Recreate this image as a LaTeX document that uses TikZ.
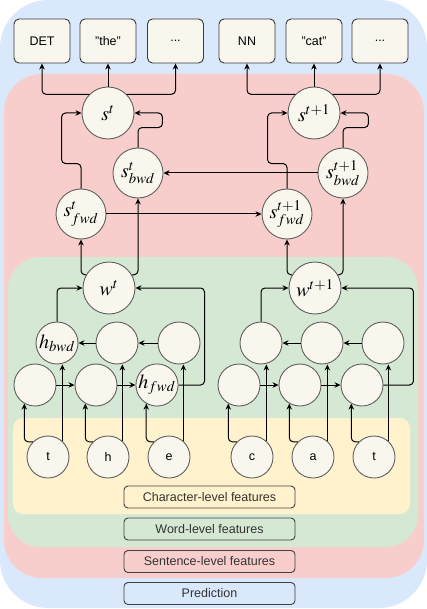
\documentclass[tikz,border=0pt]{standalone}
\usepackage{mathptmx}
\usepackage{fontspec}
\setmainfont{Liberation Sans}
\usetikzlibrary{arrows.meta}

\definecolor{predblue}{HTML}{DAE8FC}
\definecolor{sentred}{HTML}{F8CECC}
\definecolor{wordgreen}{HTML}{D5E8D4}
\definecolor{charyellow}{HTML}{FFF2CC}
\definecolor{cellfill}{HTML}{F9F7ED}
\definecolor{cellline}{HTML}{5F5F5F}
\definecolor{boxline}{HTML}{36393D}

\begin{document}
\begin{tikzpicture}[x=1pt, y=-1pt,
    cell/.style={circle, draw=cellline, fill=cellfill, line width=0.9pt, inner sep=0pt,
        minimum size=42pt, font=\fontsize{20}{24}\selectfont},
    bigcell/.style={cell, minimum size=52pt},
    charcell/.style={cell, font=\fontsize{12.5}{15}\selectfont},
    outbox/.style={draw=boxline, fill=cellfill, rounded corners=5pt, line width=0.9pt,
        minimum width=56pt, minimum height=44pt, font=\fontsize{12.5}{15}\selectfont},
    legend/.style={draw=black!75, rounded corners=4pt, line width=0.9pt, minimum width=171pt,
        minimum height=22pt, font=\fontsize{12.5}{15}\selectfont, text=black!80},
    flow/.style={-{Stealth[length=6pt,width=5.5pt]}, line width=1pt, rounded corners=4pt}]
    \useasboundingbox (0,0) rectangle (427,609);

    \fill [predblue, rounded corners=48pt] (0,0) rectangle (427,608);
    \fill [sentred, rounded corners=38pt] (4,74) rectangle (424,578);
    \fill [wordgreen, rounded corners=32pt] (8,257) rectangle (418,547);
    \fill [charyellow, rounded corners=10pt] (13,418) rectangle (410,514);

    \node [outbox] (det) at (42,41) {DET};
    \node [outbox] (the) at (108,41) {"the"};
    \node [outbox] (dots1) at (175.5,41) {...};
    \node [outbox] (nn) at (247,41) {NN};
    \node [outbox] (cat) at (314,41) {"cat"};
    \node [outbox] (dots2) at (380,41) {...};

    \node [bigcell] (s1) at (108,113) {$s^t$};
    \node [bigcell] (s2) at (314,113) {$s^{t+1}$};
    \node [cell, minimum size=50pt] (sb1) at (138,173) {$s^t_{bwd}$};
    \node [cell, minimum size=50pt] (sb2) at (343,173) {$s^{t+1}_{bwd}$};
    \node [cell, minimum size=50pt] (sf1) at (81,214) {$s^t_{fwd}$};
    \node [cell, minimum size=50pt] (sf2) at (287,214) {$s^{t+1}_{fwd}$};
    \node [bigcell] (w1) at (109,288) {$w^t$};
    \node [bigcell] (w2) at (315,288) {$w^{t+1}$};

    \node [cell] (b1) at (57,343) {$h_{bwd}$};
    \node [cell] (b2) at (117,343) {};
    \node [cell] (b3) at (179,343) {};
    \node [cell] (b4) at (261,343) {};
    \node [cell] (b5) at (322,343) {};
    \node [cell] (b6) at (383,343) {};

    \node [cell] (f1) at (35,385) {};
    \node [cell] (f2) at (96,385) {};
    \node [cell] (f3) at (157,385) {$h_{fwd}$};
    \node [cell] (f4) at (239,385) {};
    \node [cell] (f5) at (300,385) {};
    \node [cell] (f6) at (362,385) {};

    \node [charcell] (c1) at (48,457) {t};
    \node [charcell] (c2) at (108,457) {h};
    \node [charcell] (c3) at (169,457) {e};
    \node [charcell] (c4) at (252,457) {c};
    \node [charcell] (c5) at (313,457) {a};
    \node [charcell] (c6) at (374,457) {t};

    \node [legend, fill=charyellow] (lchar) at (209.5,497) {Character-level features};
    \node [legend, fill=wordgreen] (lword) at (209.5,529) {Word-level features};
    \node [legend, fill=sentred] (lsent) at (209.5,561.5) {Sentence-level features};
    \node [legend, fill=predblue] (lpred) at (209.5,593.5) {Prediction};

    \draw [flow] (s1.north) -- (the.south);
    \draw [flow] (s1.135) -| (det.south);
    \draw [flow] (s1.45) -| (dots1.south);
    \draw [flow] (s2.north) -- (cat.south);
    \draw [flow] (s2.135) -| (nn.south);
    \draw [flow] (s2.45) -| (dots2.south);

    \draw [flow] (sf1.north) -- ++(0,-25) -| ([xshift=-20pt]s1.west) -- (s1.west);
    \draw [flow] (sb1.north) -- ++(0,-20) -| ([xshift=28pt]s1.east) -- (s1.east);
    \draw [flow] (sf2.north) -- ++(0,-25) -| ([xshift=-20pt]s2.west) -- (s2.west);
    \draw [flow] (sb2.north) -- ++(0,-20) -| ([xshift=28pt]s2.east) -- (s2.east);
    \draw [flow] (sb2.west) -- (sb1.east);
    \draw [flow] (sf1.east) -- (sf2.west);

    \draw [flow] (w1.150) -| (sf1.south);
    \draw [flow] (w1.30) -| (sb1.south);
    \draw [flow] (w2.150) -| (sf2.south);
    \draw [flow] (w2.30) -| (sb2.south);

    \draw [flow] (b1.north) |- (w1.west);
    \draw [flow] (f3.east) -- ++(26,0) |- (w1.east);
    \draw [flow] (b4.north) |- (w2.west);
    \draw [flow] (f6.east) -- ++(30,0) |- (w2.east);

    \draw [flow] (f1.east) -- (f2.west);
    \draw [flow] (f2.east) -- (f3.west);
    \draw [flow] (f4.east) -- (f5.west);
    \draw [flow] (f5.east) -- (f6.west);
    \draw [flow] (b3.west) -- (b2.east);
    \draw [flow] (b2.west) -- (b1.east);
    \draw [flow] (b6.west) -- (b5.east);
    \draw [flow] (b5.west) -- (b4.east);

    \draw [flow] (c1.135) -| (f1.240);
    \draw [flow] (c2.135) -| (f2.240);
    \draw [flow] (c3.135) -| (f3.240);
    \draw [flow] (c4.135) -| (f4.240);
    \draw [flow] (c5.135) -| (f5.240);
    \draw [flow] (c6.135) -| (f6.240);
    \draw [flow] (c1.48) -- (c1.48 |- b1.south);
    \draw [flow] (c2.48) -- (c2.48 |- b2.south);
    \draw [flow] (c3.48) -- (c3.48 |- b3.south);
    \draw [flow] (c4.48) -- (c4.48 |- b4.south);
    \draw [flow] (c5.48) -- (c5.48 |- b5.south);
    \draw [flow] (c6.48) -- (c6.48 |- b6.south);
\end{tikzpicture}
\end{document}
